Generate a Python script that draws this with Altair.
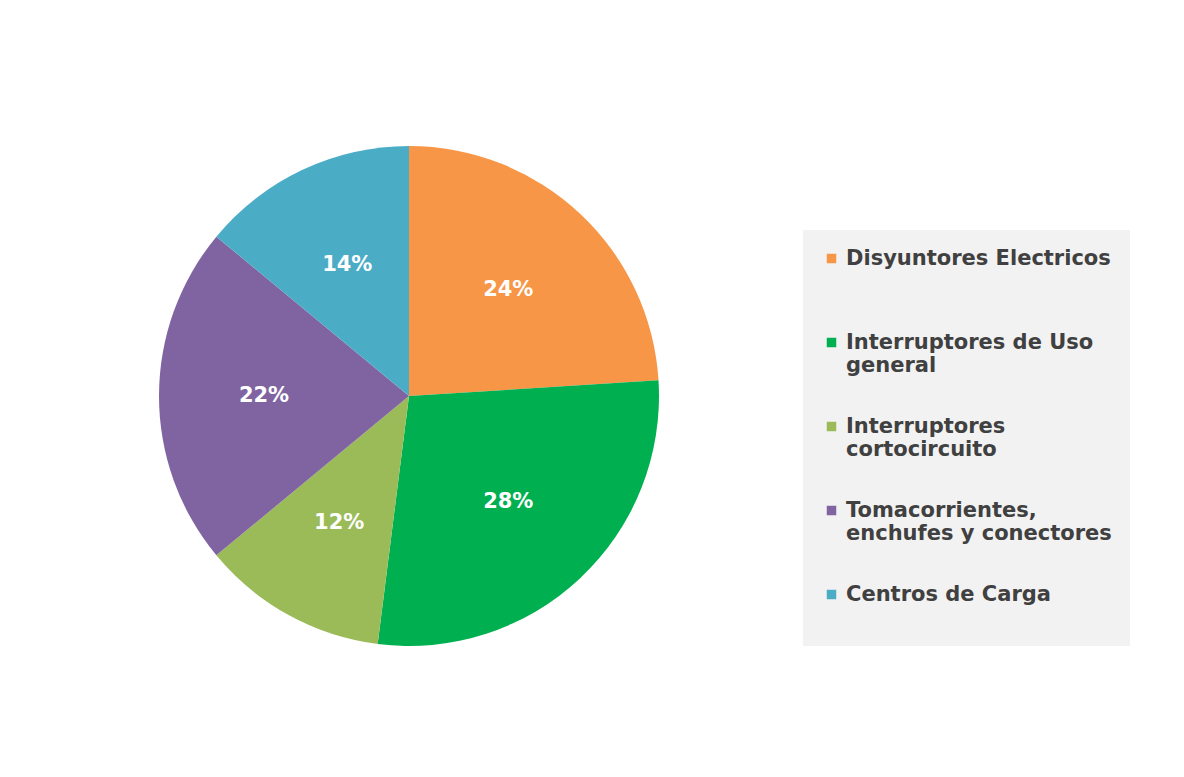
import altair as alt
import pandas as pd

categories = [
    "Disyuntores Electricos\n ",
    "Interruptores de Uso\ngeneral",
    "Interruptores\ncortocircuito",
    "Tomacorrientes,\nenchufes y conectores",
    "Centros de Carga\n ",
]
values = [24, 28, 12, 22, 14]
labels = ["24%", "28%", "12%", "22%", "14%"]
colors = ["#F79646", "#00B050", "#9BBB59", "#8064A2", "#4BACC6"]

df = pd.DataFrame({
    "category": categories,
    "value": values,
    "label": labels,
    "order": list(range(len(categories))),
})

cx, cy = 401, 388

base = alt.Chart(df).encode(
    theta=alt.Theta("value:Q", stack=True),
    order=alt.Order("order:Q"),
)

pie = base.mark_arc(outerRadius=250, stroke=None).encode(
    x=alt.value(cx),
    y=alt.value(cy),
    color=alt.Color(
        "category:N",
        sort=categories,
        scale=alt.Scale(domain=categories, range=colors),
        legend=alt.Legend(
            title=None,
            orient="none",
            legendX=795,
            legendY=222,
            padding=18,
            fillColor="#f2f2f2",
            symbolType="square",
            symbolSize=90,
            symbolStrokeWidth=0,
            labelFont="DejaVu Sans",
            labelFontSize=21,
            labelFontWeight="bold",
            labelColor="#404040",
            labelLimit=400,
            labelExpr="split(datum.label, '\\n')",
            rowPadding=39,
        ),
    ),
)

text = base.mark_text(
    radius=145,
    font="DejaVu Sans",
    fontSize=21,
    fontWeight="bold",
    color="white",
).encode(
    x=alt.value(cx),
    y=alt.value(cy),
    text="label:N",
)

chart = (
    alt.layer(pie, text)
    .properties(width=1168, height=761, autosize=alt.AutoSizeParams(type="none"), padding=0)
    .configure_view(stroke=None)
)

chart.save("out.html", embed_options={"renderer": "svg", "actions": False})
